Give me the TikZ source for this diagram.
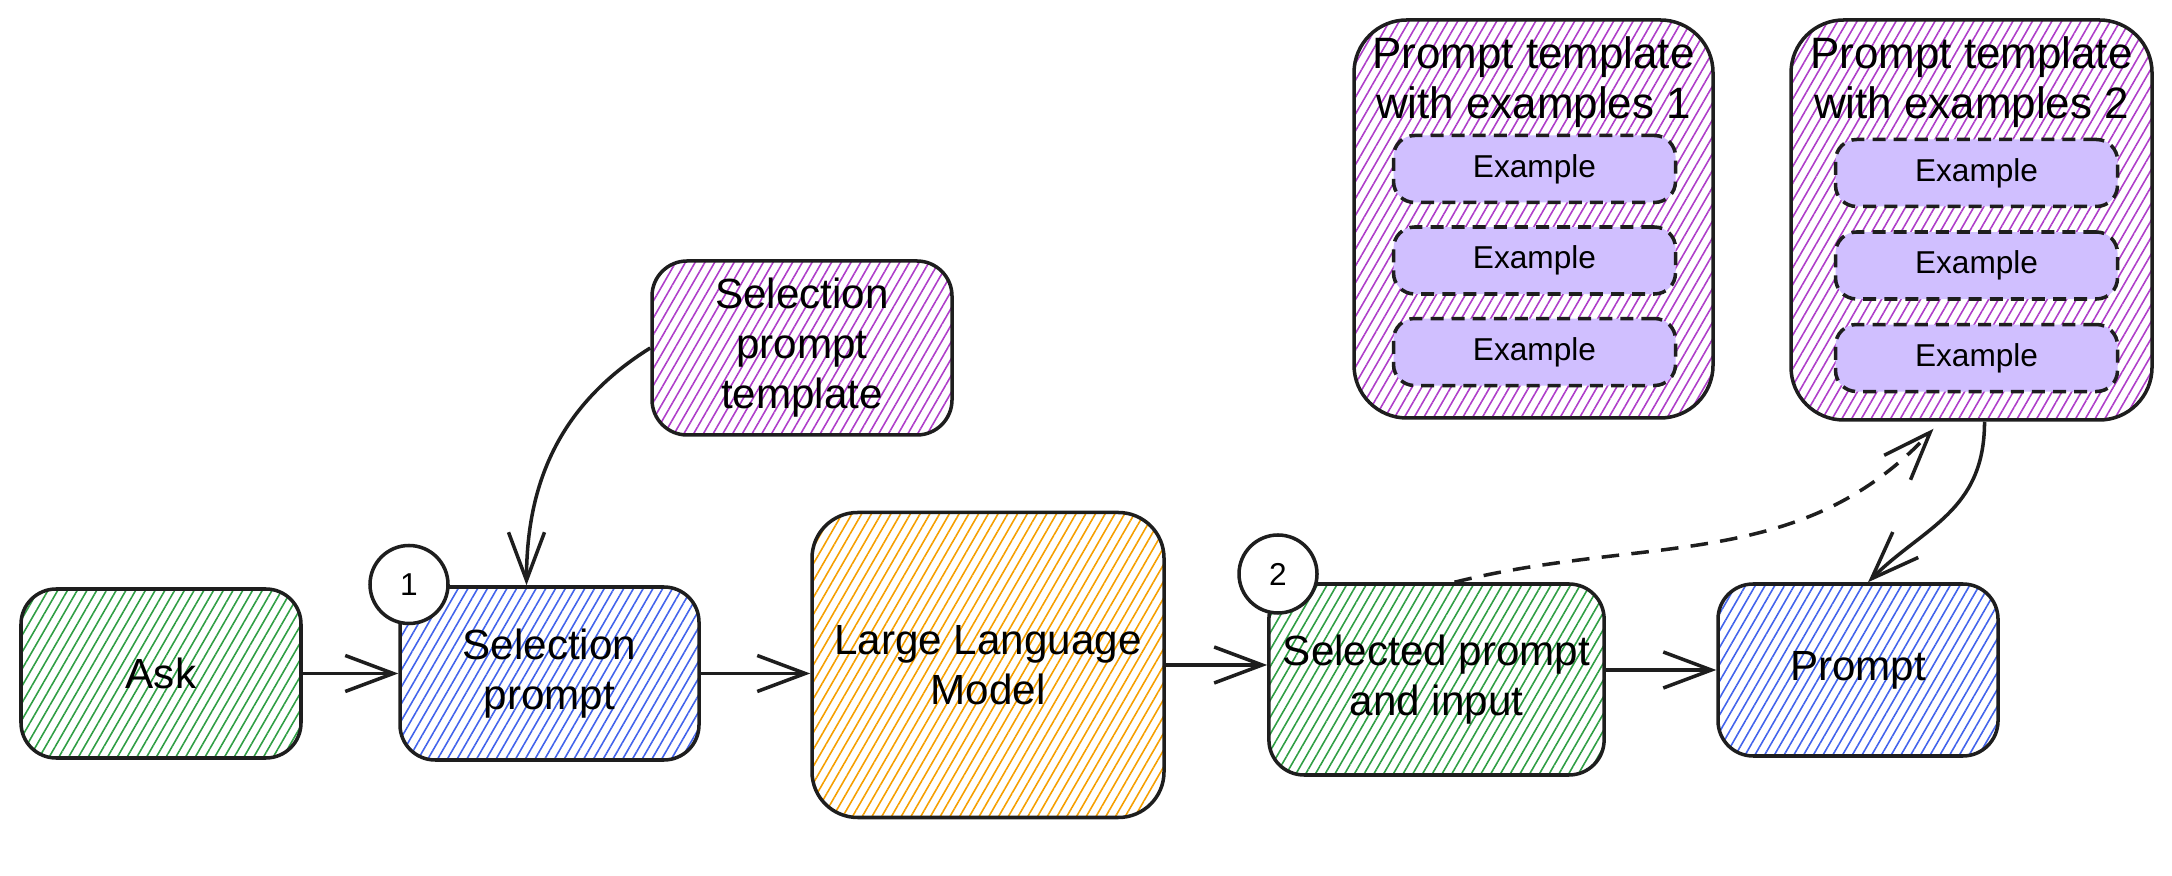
\documentclass[tikz,border=0pt]{standalone}
\usepackage{fontspec}
\setmainfont{Liberation Sans}
\usetikzlibrary{arrows.meta,patterns.meta,positioning}
\definecolor{ink}{HTML}{1E1E1E}
\definecolor{grn}{HTML}{2F9E44}
\definecolor{blu}{HTML}{4263EB}
\definecolor{orn}{HTML}{F59F00}
\definecolor{vio}{HTML}{AE3EC9}
\definecolor{lav}{HTML}{D0BFFF}

\begin{document}
\begin{tikzpicture}[
  font=\fontsize{12}{14.2}\selectfont, >={Straight Barb[length=4.8mm, width=3.6mm]},
  box/.style={draw=ink, line width=1pt, rounded corners=10pt, align=center, inner sep=4pt},
  hatch/.style={box, pattern={Lines[angle=60, distance=2.4pt, line width=0.45pt]}, pattern color=#1},
  exbox/.style={draw=ink, line width=1pt, dash pattern=on 3.7pt off 2.3pt, fill=lav, rounded corners=6pt,
                minimum width=2.82cm, minimum height=0.67cm, font=\fontsize{9}{11}\selectfont},
  num/.style={circle, draw=ink, line width=1pt, fill=white, minimum size=0.78cm, inner sep=0pt, font=\fontsize{9}{11}\selectfont},
  arr/.style={->, line width=1pt, draw=ink},
  ttl/.style={align=center, font=\fontsize{12.5}{14.2}\selectfont}
]
\useasboundingbox (0,0) rectangle (21.72,-8.76);
% ---------------- selection step
\node[hatch=grn, minimum width=2.8cm, minimum height=1.69cm] (ask) at (1.61,-6.735) {Ask};
\node[hatch=blu, minimum width=2.99cm, minimum height=1.73cm] (selp) at (5.495,-6.735) {Selection\\prompt};
\node[num] (no1) at (4.09,-5.845) {1};
\node[hatch=vio, minimum width=3.0cm, minimum height=1.74cm] (seltpl) at (8.02,-3.48) {Selection\\prompt\\template};
\node[hatch=orn, minimum width=3.52cm, minimum height=3.05cm, rounded corners=13pt] (llm) at (9.88,-6.65) {Large Language\\Model};
% ---------------- output step
\node[hatch=grn, minimum width=3.33cm, minimum height=1.91cm] (sel) at (14.365,-6.795) {Selected prompt\\and input};
\node[num] (no2) at (12.78,-5.74) {2};
\node[hatch=blu, minimum width=2.8cm, minimum height=1.72cm] (prm) at (18.58,-6.7) {Prompt};
% ---------------- templates with examples
\node[hatch=vio, minimum width=3.59cm, minimum height=3.98cm, rounded corners=15pt] (tpl1) at (15.335,-2.19) {};
\node[ttl] (tpl1t) at (15.335,-0.82) {Prompt template\\with examples 1};
\node[exbox] (ex11) at (15.345,-1.69) {Example};
\node[exbox, below=0.21cm of ex11] (ex12) {Example};
\node[exbox, below=0.21cm of ex12] (ex13) {Example};
\node[hatch=vio, minimum width=3.61cm, minimum height=4.0cm, rounded corners=15pt] (tpl2) at (19.715,-2.2) {};
\node[ttl] (tpl2t) at (19.715,-0.82) {Prompt template\\with examples 2};
\node[exbox] (ex21) at (19.765,-1.73) {Example};
\node[exbox, below=0.22cm of ex21] (ex22) {Example};
\node[exbox, below=0.22cm of ex22] (ex23) {Example};
% ---------------- arrows
\draw[arr] (ask) -- (selp);
\draw[arr] (selp.east) -- (selp.east -| llm.west);
\draw[arr] (llm.east) -- (llm.east -| sel.west);
\draw[arr] (prm.west -| sel.east) -- (prm.west);
\draw[arr] (seltpl.west) to[out=212, in=90] ([xshift=-2.3mm]selp.north);
\draw[arr, dash pattern=on 5pt off 3.5pt] ([xshift=1.8mm]sel.north) to[out=14, in=227] ([xshift=-3.8mm, yshift=-0.7mm]tpl2.south);
\draw[arr] ([xshift=1.3mm]tpl2.south) .. controls +(0,-0.9) and +(0.55,0.55) .. ([xshift=1mm]prm.north);
\end{tikzpicture}
\end{document}
